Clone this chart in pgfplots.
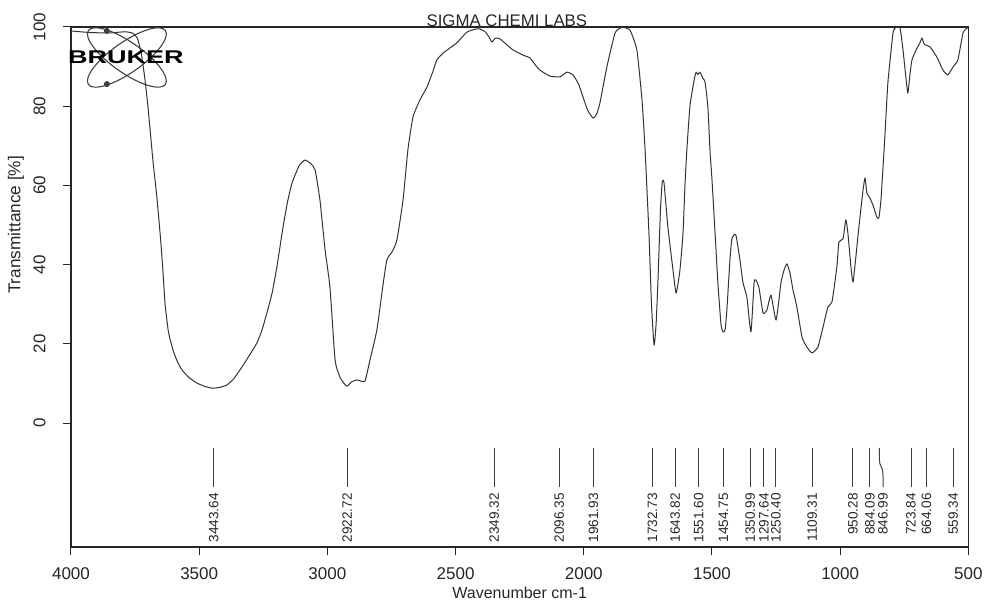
\documentclass[border=0pt]{standalone}
\usepackage{fontspec}
\setmainfont{Liberation Sans}
\usepackage{pgfplots}
\usepackage{pgfplotstable}
\pgfplotsset{compat=1.18}

\newcommand{\fT}{\fontsize{8.5}{10}\selectfont}
\newcommand{\fP}{\fontsize{6.8}{8}\selectfont}

% wavenumber (cm-1)  transmittance (%)
\pgfplotstableread{
w T
4000 99.0
3926 98.6
3848 98.5
3789 98.8
3758 98.4
3740 97
3725 93
3712 87
3700 80
3690 73
3680 66
3665 57
3650 46
3641 38
3633 30
3620 23
3602 18.4
3585 15.5
3567 13.4
3540 11.5
3509 10.1
3480 9.3
3450 8.8
3420 9.0
3392 9.6
3365 11.2
3341 13.4
3310 16.5
3275 20.2
3255 23.5
3236 27.8
3215 33
3197 39.4
3173 49.5
3155 56
3138 60.6
3110 65
3087 66.4
3065 65.5
3048 63.9
3029 56.3
3009 43.7
2990 34.3
2970 15.9
2951 11.6
2935 10
2924 9.3
2905 10.4
2885 10.9
2870 10.6
2853 10.6
2834 15.9
2807 23.5
2785 34
2768 41.2
2748 43.2
2729 46.2
2705 56.3
2686 69
2666 77.3
2639 81.6
2612 84.8
2590 88.5
2573 91.7
2549 93.4
2520 94.8
2495 96
2456 98.7
2420 99.5
2405 99.5
2385 98.8
2370 97.5
2358 96.2
2345 97.2
2327 97
2300 95.5
2276 94.2
2237 92.9
2210 92.2
2190 90.5
2171 89.1
2132 87.6
2093 87.4
2066 88.6
2042 87.9
2020 85.5
2003 82.3
1985 79
1964 77
1950 78
1937 80.8
1910 89.9
1878 98.5
1851 99.9
1820 99.2
1793 94.2
1773 81.6
1761 69
1746 48
1736 30
1726 19.7
1718 25
1711 35.4
1701 53.8
1694 60.9
1687 60.6
1672 49.5
1652 38.6
1640 32.8
1625 38.6
1613 48
1605 60.6
1598 69
1586 80
1570 86.5
1562 88.6
1555 88
1547 88.6
1535 87
1527 86.1
1516 79.8
1508 69
1500 61.4
1488 48
1477 35.4
1465 25
1457 23
1449 23.5
1442 28.5
1430 41.2
1422 46.7
1407 47.5
1391 41.2
1379 35.4
1364 31.8
1348 23
1336 35.4
1329 36.1
1317 34.3
1301 27.8
1286 28.5
1270 32.3
1250 26
1231 35.4
1219 38.6
1208 40.2
1196 37.9
1184 33.6
1169 29.3
1149 21.7
1130 19.2
1110 17.7
1087 19.2
1067 24.2
1048 29.3
1032 30.6
1013 39.4
1005 45.7
989 46.5
978 51.3
970 48
958 39.4
950 35.6
939 41.9
927 49.5
911 58.8
903 61.9
896 58.1
884 56.8
872 55
857 52
849 51.8
841 56.3
833 64.6
825 73.2
814 85.9
794 98.5
782 99.9
767 99.9
755 94.2
744 87.4
736 83.3
728 88
720 91.7
704 94.2
689 96
681 97.2
675 96
669 95.5
650 95
623 92.4
599 89.1
580 87.9
560 89.9
541 91.7
521 98.5
510 99.5
502 99.8
}\spectrum

\begin{document}
\begin{tikzpicture}
\path[use as bounding box] (-35.5pt,-28.5pt) rectangle (457pt,273.5pt);
\begin{axis}[
  at={(0pt,0pt)}, anchor=south west,
  scale only axis, width=448.7pt, height=260pt,
  x dir=reverse,
  xmin=500, xmax=4000, ymin=-31.3, ymax=100,
  xtick={500,1000,...,4000}, ytick={0,20,...,100},
  minor tick num=0,
  tick align=outside, tick pos=left,
  major tick length=4pt,
  tick style={black!85, line width=0.5pt},
  axis line style={black!85, line width=0.6pt},
  ticklabel style={font=\fT, black!85},
  /pgf/number format/assume math mode=true,
  /pgf/number format/1000 sep={},
  scaled ticks=false,
  xticklabel style={anchor=north, inner sep=0pt},
  yticklabel style={rotate=90, anchor=south, inner sep=0pt},
  xticklabel shift=6pt, yticklabel shift=8.5pt,
  clip=false,
]
\addplot[black!80, line width=0.5pt, line join=round, smooth, tension=0.3] table[x=w, y=T] {\spectrum};

% peak picking marks
\pgfplotsinvokeforeach{3443.64,2922.72,2349.32,2096.35,1961.93,1732.73,1643.82,1551.60,1454.75,1350.99,1297.64,1250.40,1109.31,950.28,884.09,723.84,664.06,559.34}{
  \draw[black!75, line width=0.5pt] (axis cs:#1,-6.3) -- (axis cs:#1,-16.2);
  \node[font=\fP, black!85, rotate=90, anchor=east, inner sep=0pt] at (axis cs:#1,-17.6) {#1};
}
\draw[black!75, line width=0.5pt] (axis cs:846.99,-6.3) -- (axis cs:846.99,-9)
  .. controls (axis cs:846.99,-11.5) and (axis cs:833,-10.5) .. (axis cs:833,-13.5) -- (axis cs:833,-16.2);
\node[font=\fP, black!85, rotate=90, anchor=east, inner sep=0pt] at (axis cs:833,-17.6) {846.99};

% title
\node[font=\fontsize{8.4}{10}\selectfont, black!85, anchor=base] at ([yshift=0.3pt]axis cs:2300,100) {SIGMA CHEMI LABS};

% axis labels
\node[font=\fontsize{8}{10}\selectfont, black!85, anchor=base] at ([yshift=-26pt]axis description cs:0.5,0) {Wavenumber cm-1};
\node[font=\fontsize{8.6}{10}\selectfont, black!85, rotate=90, anchor=base] at ([xshift=-25.3pt]axis cs:4000,50) {Transmittance [\%]};

% BRUKER logo
\coordinate (lg) at (axis cs:3782,92.3);
\draw[black!75, line width=0.55pt, rotate around={-35:(lg)}] (lg) ellipse [x radius=23.5pt, y radius=7.6pt];
\draw[black!75, line width=0.55pt, rotate around={35:(lg)}] (lg) ellipse [x radius=23.5pt, y radius=7.6pt];
\fill[black!75] ([shift={(-10pt,13.3pt)}]lg) circle [radius=1.5pt];
\fill[black!75] ([shift={(-10pt,-13.3pt)}]lg) circle [radius=1.5pt];
\node[font=\fontsize{9.2}{10}\selectfont\bfseries, black, xscale=1.47, inner sep=0pt] at ([xshift=-0.5pt]lg) {BRUKER};
\end{axis}
\end{tikzpicture}
\end{document}
